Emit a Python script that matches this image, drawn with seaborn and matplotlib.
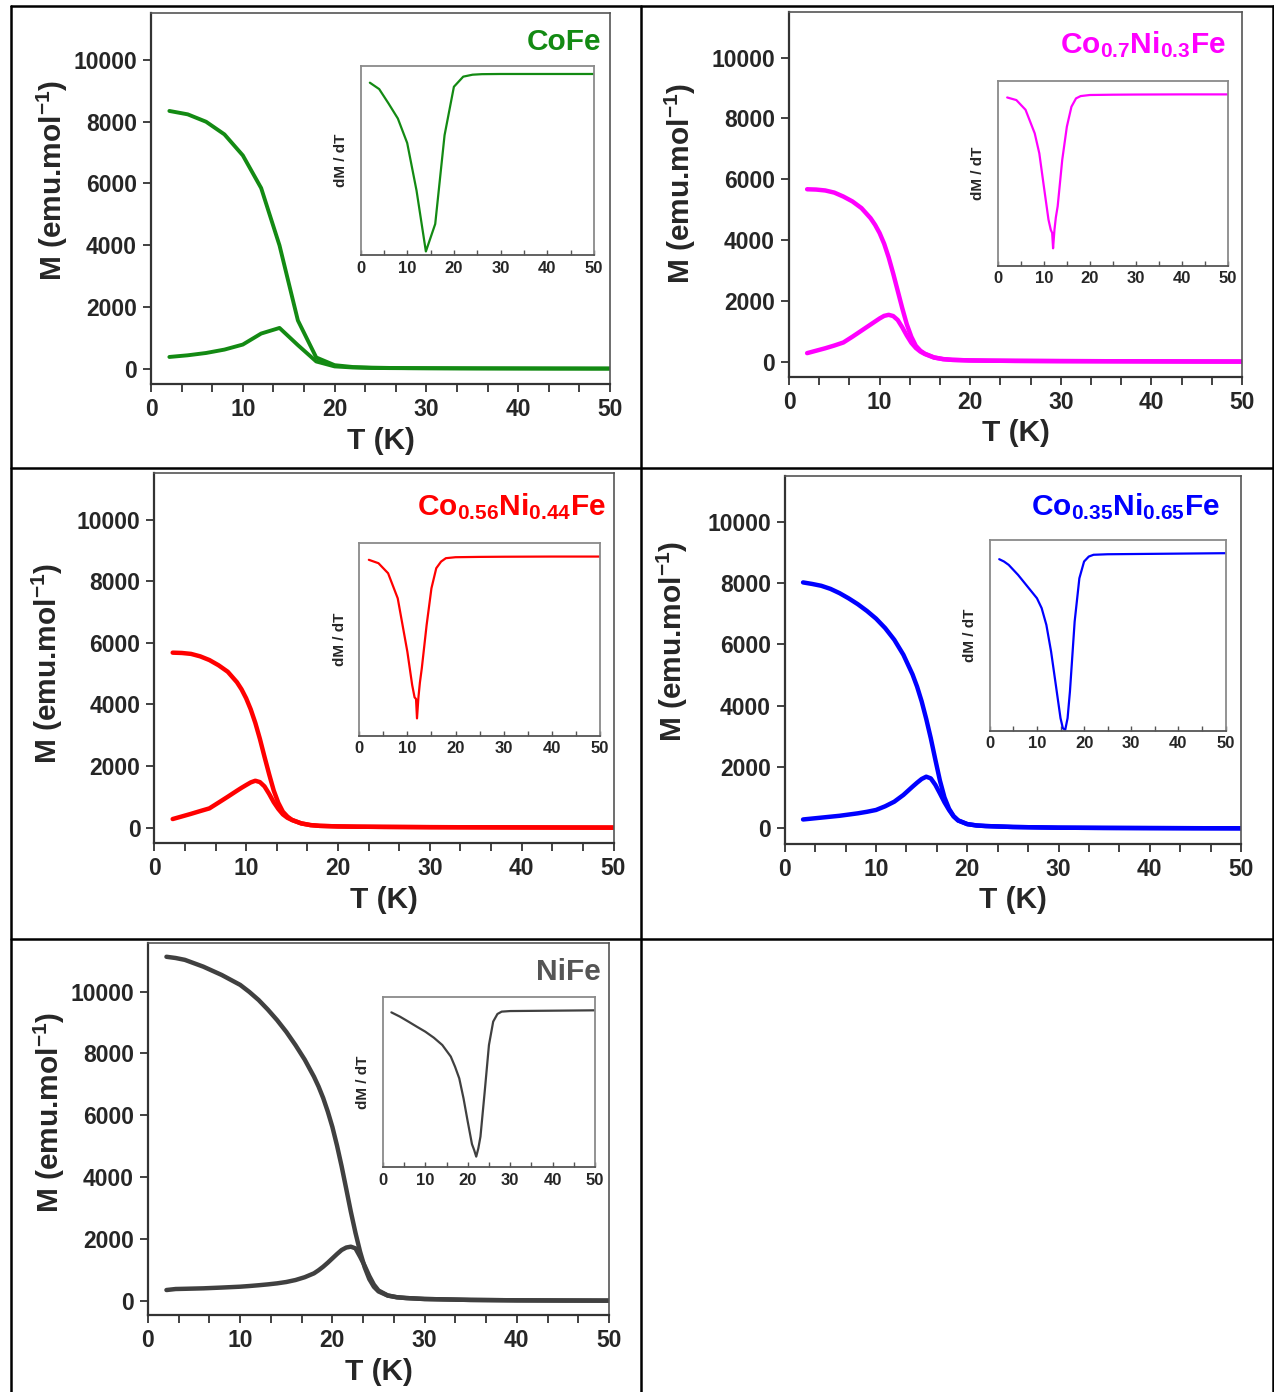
import numpy as np
import matplotlib
matplotlib.use("Agg")
import matplotlib.pyplot as plt
from matplotlib.lines import Line2D
from matplotlib.ticker import MultipleLocator
import seaborn as sns

# ---------------- data ----------------
# CoFe
T_cofe = [2, 4, 6, 8, 10, 12, 14, 16, 18, 20, 22, 24, 26, 28, 30, 32, 34, 36, 38, 40, 42, 44, 46, 48, 50]
fc_cofe = [8350, 8240, 8000, 7590, 6910, 5850, 3990, 1560, 360, 110, 50, 30, 20, 15, 12, 10, 8, 6, 5, 4, 3, 2, 1, 0, 0]
zfc_cofe = [376, 430, 505, 615, 778, 1135, 1317, 760, 230, 70, 35, 20, 15, 12, 10, 8, 6, 5, 4, 3, 2, 1, 1, 0, 0]
Td_cofe = [2, 4, 6, 8, 10, 12, 14, 16, 18, 20, 22, 24, 26, 30, 40, 50]
dmdt_cofe = [-49, -85, -166, -251, -389, -657, -1000, -845, -345, -72, -15, -4, -1, 0, 0, 0]

# Co0.7Ni0.3Fe
T_co07 = [2, 3, 4, 5, 6, 7, 8, 9, 9.5, 10, 10.5, 11, 11.5, 12, 12.5, 13, 13.5, 14, 14.5, 15, 16, 17, 18, 20, 22, 25, 30, 35, 40, 45, 50]
fc_co07 = [5670, 5660, 5630, 5560, 5430, 5270, 5050, 4720, 4500, 4230, 3880, 3430, 2900, 2330, 1760, 1230, 820, 520, 360, 260, 140, 85, 60, 40, 32, 25, 18, 14, 10, 6, 3]
zfc_co07 = [280, 360, 440, 530, 630, 820, 1020, 1220, 1320, 1420, 1505, 1540, 1500, 1370, 1130, 860, 620, 450, 330, 250, 135, 82, 58, 40, 32, 25, 18, 14, 10, 6, 3]
Td_co07 = [2, 4, 6, 8, 9, 10, 11, 11.5, 11.8, 12, 12.3, 12.6, 13, 14, 15, 16, 17, 18, 20, 25, 30, 40, 50]
dmdt_co07 = [-20, -37, -100, -253, -383, -600, -814, -880, -900, -1000, -880, -800, -727, -424, -210, -80, -26, -11, -4, -2, -1, 0, 0]

# Co0.56Ni0.44Fe
T_co56 = [2, 3, 4, 5, 6, 7, 8, 9, 9.5, 10, 10.5, 11, 11.5, 12, 12.5, 13, 13.5, 14, 14.5, 15, 16, 17, 18, 20, 22, 25, 30, 35, 40, 45, 50]
fc_co56 = [5680, 5670, 5640, 5560, 5440, 5270, 5060, 4720, 4490, 4200, 3840, 3400, 2880, 2300, 1740, 1210, 810, 520, 360, 250, 140, 85, 60, 42, 33, 26, 18, 14, 10, 6, 3]
zfc_co56 = [281, 365, 450, 540, 627, 815, 1005, 1200, 1295, 1384, 1470, 1524, 1480, 1340, 1100, 830, 610, 432, 320, 250, 140, 85, 60, 42, 33, 26, 18, 14, 10, 6, 3]
Td_co56 = [2, 4, 6, 8, 10, 11, 11.5, 11.8, 12, 12.3, 12.6, 13, 14, 15, 16, 17, 18, 20, 25, 30, 40, 50]
dmdt_co56 = [-20, -41, -103, -258, -588, -794, -870, -880, -1000, -870, -780, -690, -423, -196, -72, -31, -10, -4, -2, -1, 0, 0]

# Co0.35Ni0.65Fe
T_co35 = [2, 3, 4, 5, 6, 7, 8, 9, 10, 11, 12, 13, 14, 14.5, 15, 15.5, 16, 16.5, 17, 17.5, 18, 18.5, 19, 20, 21, 22, 25, 30, 35, 40, 45, 50]
fc_co35 = [8020, 7970, 7910, 7810, 7670, 7500, 7310, 7090, 6840, 6530, 6150, 5660, 5020, 4620, 4140, 3570, 2940, 2240, 1560, 1010, 640, 400, 260, 140, 95, 76, 45, 22, 14, 9, 5, 2]
zfc_co35 = [290, 320, 350, 380, 410, 450, 490, 540, 600, 720, 870, 1090, 1360, 1490, 1610, 1685, 1630, 1420, 1140, 850, 600, 390, 255, 138, 95, 76, 45, 22, 14, 9, 5, 2]
Td_co35 = [2, 3, 4, 6, 8, 10, 11, 12, 13, 14, 15, 15.5, 16, 16.5, 17, 18, 19, 20, 21, 22, 25, 50]
dmdt_co35 = [-34, -47, -66, -123, -189, -255, -311, -406, -557, -745, -934, -991, -1000, -934, -783, -387, -142, -47, -19, -9, -6, 0]

# NiFe
T_nife = [2, 3, 4, 6, 8, 10, 11, 12, 13, 14, 15, 16, 17, 18, 18.5, 19, 19.5, 20, 20.5, 21, 21.5, 22, 22.5, 23, 23.5, 24, 24.5, 25, 26, 27, 28, 30, 35, 40, 45, 50]
fc_nife = [11130, 11090, 11030, 10810, 10540, 10220, 9990, 9730, 9420, 9080, 8700, 8270, 7800, 7250, 6930, 6560, 6120, 5620, 5020, 4350, 3620, 2880, 2200, 1590, 1080, 700, 450, 300, 165, 110, 86, 55, 25, 12, 6, 2]
zfc_nife = [345, 378, 385, 400, 425, 453, 475, 500, 528, 561, 605, 669, 760, 885, 985, 1100, 1230, 1370, 1510, 1640, 1720, 1748, 1694, 1424, 1130, 800, 520, 330, 170, 112, 86, 55, 25, 12, 6, 2]
Td_nife = [2, 4, 6, 8, 10, 12, 14, 16, 17, 18, 19, 20, 21, 21.5, 22, 22.5, 23, 24, 25, 26, 27, 28, 30, 50]
dmdt_nife = [-14, -43, -77, -112, -146, -187, -237, -316, -385, -465, -601, -761, -915, -954, -1000, -943, -863, -556, -237, -77, -25, -9, -5, 0]

names = ["CoFe", "Co$_{0.7}$Ni$_{0.3}$Fe", "Co$_{0.56}$Ni$_{0.44}$Fe",
         "Co$_{0.35}$Ni$_{0.65}$Fe", "NiFe"]
x_ticks = [0, 10, 20, 30, 40, 50]
y_ticks = [0, 2000, 4000, 6000, 8000, 10000]

# ---------------- style ----------------
sns.set_theme(style="ticks")
plt.rcParams["font.family"] = ["Liberation Sans", "DejaVu Sans"]
plt.rcParams["font.weight"] = "bold"
plt.rcParams["mathtext.fontset"] = "custom"
plt.rcParams["mathtext.rm"] = "Liberation Sans:bold"
plt.rcParams["mathtext.bf"] = "Liberation Sans:bold"
plt.rcParams["mathtext.it"] = "Liberation Sans:bold"
plt.rcParams["mathtext.sf"] = "Liberation Sans:bold"

W, H = 1274, 1392
fig = plt.figure(figsize=(W / 100, H / 100), dpi=100)
fig.patch.set_facecolor("white")


def px_axes(l, t, r, b):
    return fig.add_axes([l / W, 1 - b / H, (r - l) / W, (b - t) / H])


panels = [
    dict(T=T_cofe, fc=fc_cofe, zfc=zfc_cofe, Td=Td_cofe, d=dmdt_cofe, name=names[0],
         col="#138a13", tcol="#138a13", main=(151, 13.3, 610, 384.3), ylim=(-510, 11515),
         ins=(360.5, 66, 594, 255), iylim=(-1020, 45), title_xy=(0.98, 0.901),
         ylab=(-0.176, 0.55), lw=2.8),
    dict(T=T_co07, fc=fc_co07, zfc=zfc_co07, Td=Td_co07, d=dmdt_co07, name=names[1],
         col="#ff00ff", tcol="#ff00ff", main=(789, 12, 1242, 376.7), ylim=(-495, 11500),
         ins=(998, 81, 1227.5, 265.7), iylim=(-1113, 87), title_xy=(0.964, 0.888),
         ylab=(-0.2, 0.531), lw=3.2),
    dict(T=T_co56, fc=fc_co56, zfc=zfc_co56, Td=Td_co56, d=dmdt_co56, name=names[2],
         col="#ff0000", tcol="#ff0000", main=(154.3, 473.3, 613.5, 843.3), ylim=(-506, 11500),
         ins=(359.2, 543.3, 600, 735.7), iylim=(-1107, 82), title_xy=(0.984, 0.887),
         ylab=(-0.194, 0.485), lw=3.2),
    dict(T=T_co35, fc=fc_co35, zfc=zfc_co35, Td=Td_co35, d=dmdt_co35, name=names[3],
         col="#0000ff", tcol="#0000ff", main=(784.8, 475.7, 1241, 844), ylim=(-510, 11500),
         ins=(989.8, 540.3, 1225.5, 730.7), iylim=(-1005, 73), title_xy=(0.954, 0.893),
         ylab=(-0.207, 0.551), lw=3.2),
    dict(T=T_nife, fc=fc_nife, zfc=zfc_nife, Td=Td_nife, d=dmdt_nife, name=names[4],
         col="#404040", tcol="#555555", main=(148, 943.3, 609, 1315), ylim=(-463, 11566),
         ins=(382.9, 997.3, 595, 1167.3), iylim=(-1073, 89), title_xy=(0.983, 0.901),
         ylab=(-0.176, 0.545), lw=3.2),
]

for p in panels:
    ax = px_axes(*p["main"])
    sns.lineplot(x=p["T"], y=p["fc"], ax=ax, color=p["col"], lw=p["lw"],
                 estimator=None, sort=False)
    sns.lineplot(x=p["T"], y=p["zfc"], ax=ax, color=p["col"], lw=p["lw"],
                 estimator=None, sort=False)
    for ln in ax.lines:
        ln.set_solid_joinstyle("round")
        ln.set_solid_capstyle("round")
    ax.set_xlim(0, 50)
    ax.set_ylim(*p["ylim"])
    ax.set_xticks(x_ticks)
    ax.set_yticks(y_ticks)
    ax.xaxis.set_minor_locator(MultipleLocator(10 / 3))
    ax.tick_params(axis="both", which="major", direction="out", length=5.5, width=1.3,
                   color="#333333", labelsize=16.5, pad=4.5)
    ax.tick_params(axis="x", which="minor", direction="out", length=5.5, width=1.3,
                   color="#333333")
    for lab in ax.get_xticklabels() + ax.get_yticklabels():
        lab.set_fontweight("bold")
    for s in ["left", "bottom"]:
        ax.spines[s].set_color("#333333")
        ax.spines[s].set_linewidth(1.6)
    for s in ["top", "right"]:
        ax.spines[s].set_visible(True)
        ax.spines[s].set_color("#555555")
        ax.spines[s].set_linewidth(1.2)
    ax.set_xlabel("T (K)", fontsize=21.5, fontweight="bold")
    ax.set_ylabel("M (emu.mol$^{-1}$)", fontsize=21.5, fontweight="bold")
    ax.xaxis.set_label_coords(0.5, -0.115)
    ax.yaxis.set_label_coords(*p["ylab"])
    ax.text(p["title_xy"][0], p["title_xy"][1], p["name"], transform=ax.transAxes,
            ha="right", va="baseline", fontsize=21.5, fontweight="bold", color=p["tcol"])

    # inset dM/dT
    ia = px_axes(*p["ins"])
    sns.lineplot(x=p["Td"], y=p["d"], ax=ia, color=p["col"], lw=1.6,
                 estimator=None, sort=False)
    ia.set_xlim(0, 50)
    ia.set_ylim(*p["iylim"])
    ia.set_xticks(x_ticks)
    ia.set_yticks([])
    ia.xaxis.set_minor_locator(MultipleLocator(5))
    ia.tick_params(axis="x", which="both", direction="in", length=3.5, width=1.0,
                   color="#555555", labelsize=12, pad=4)
    for lab in ia.get_xticklabels():
        lab.set_fontweight("bold")
    for s in ia.spines.values():
        s.set_visible(True)
        s.set_color("#8a8a8a")
        s.set_linewidth(1.3)
    ia.spines["bottom"].set_color("#555555")
    ia.set_xlabel("")
    ia.set_ylabel("dM / dT", fontsize=11, fontweight="bold", labelpad=9)

# table cell borders
def hline(y, x0=10.5, x1=1272.5):
    fig.add_artist(Line2D([x0 / W, x1 / W], [1 - y / H, 1 - y / H],
                          transform=fig.transFigure, color="black", lw=1.8))

def vline(x, y0=5.5, y1=1392):
    fig.add_artist(Line2D([x / W, x / W], [1 - y0 / H, 1 - y1 / H],
                          transform=fig.transFigure, color="black", lw=1.8))

for yy in [5.7, 467.5, 939]:
    hline(yy)
for xx in [10.7, 641, 1272.5]:
    vline(xx)

fig.savefig("out.png", dpi=100, facecolor="white")
